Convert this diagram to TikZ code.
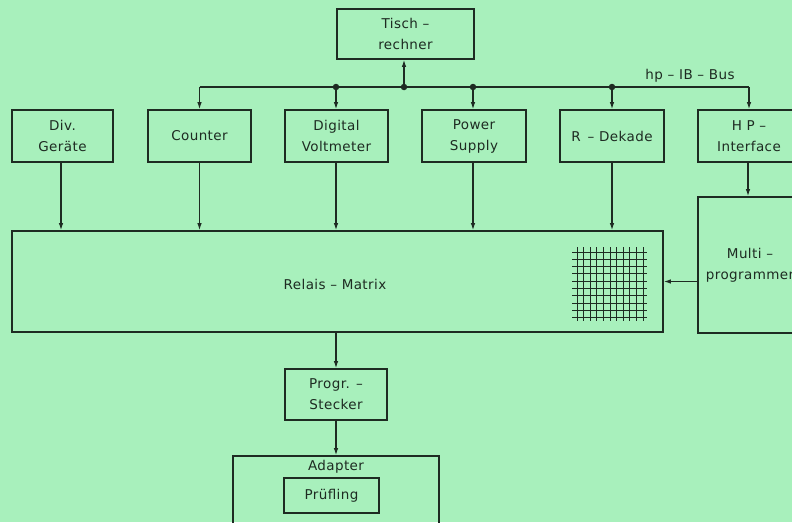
\documentclass[tikz,border=0pt]{standalone}
\usepackage{fontspec}
\setmainfont{DejaVu Sans}[LetterSpace=3]
\usetikzlibrary{arrows.meta}
\definecolor{bg}{HTML}{A8F0BC}
\definecolor{ink}{HTML}{1E2B22}
\tikzset{
  box/.style={draw=ink, line width=1.7pt, align=center, inner sep=0pt, text=ink,
    font=\fontsize{13.5}{21}\selectfont},
  conn/.style={draw=ink, line width=1.1pt, -{Latex[length=7pt,width=4.5pt]}},
  plain/.style={draw=ink, line width=1.1pt},
  lbl/.style={text=ink, font=\fontsize{13.5}{21}\selectfont, inner sep=0pt},
  grid/.style={draw=ink, line width=1pt},
  dot/.style={circle, fill=ink, inner sep=0pt, minimum size=6.5pt}
}
\begin{document}
\begin{tikzpicture}[x=1pt,y=-1pt]
\useasboundingbox (0,0) rectangle (792,522);
\fill[bg] (0,0) rectangle (792,522);
\clip (0,0) rectangle (792,522);

\node[box, minimum width=137pt, minimum height=50pt] (tisch) at (405.5,34) {Tisch –\\rechner};
\node[box, minimum width=101pt, minimum height=52pt] (div) at (62.5,136) {Div.\\Geräte};
\node[box, minimum width=103pt, minimum height=52pt] (counter) at (199.5,136) {Counter};
\node[box, minimum width=103pt, minimum height=52pt] (dvm) at (336.5,136) {Digital\\Voltmeter};
\node[box, minimum width=104pt, minimum height=52pt] (ps) at (474,136) {Power\\Supply};
\node[box, minimum width=104pt, minimum height=52pt] (rdek) at (612,136) {R \,– Dekade};
\node[box, minimum width=102pt, minimum height=52pt] (hp) at (749,136) {H P –\\Interface};
\node[box, minimum width=651pt, minimum height=101pt] (relais) at (337.5,281.5) {};
\node[lbl] (relaistxt) at (335,284) {Relais – Matrix};
\node[box, minimum width=104pt, minimum height=136pt] (multi) at (750,265) {Multi –\\programmer};
\node[box, minimum width=102pt, minimum height=51pt] (progr) at (336,394.5) {Progr. –\\Stecker};
\node[box, minimum width=206pt, minimum height=90pt] (adapter) at (336,501) {};
\node[lbl] (adaptertxt) at (336,467) {Adapter};
\node[box, line width=1.2pt, minimum width=95pt, minimum height=35pt] (pruef) at (331.5,495.5) {Prüfling};
\node[lbl] (buslbl) at (690,76) {hp – IB – Bus};

% bus
\coordinate (busy) at (0,87);
\draw[plain] (counter.north |- busy) -- (hp.north |- busy);
\draw[conn] (counter.north |- busy) -- (counter.north);
\draw[conn] ([xshift=-0.5pt]dvm.north |- busy) -- ([xshift=-0.5pt]dvm.north);
\draw[conn] ([xshift=-1pt]ps.north |- busy) -- ([xshift=-1pt]ps.north);
\draw[conn] (rdek.north |- busy) -- (rdek.north);
\draw[conn] (hp.north |- busy) -- (hp.north);
\draw[conn] ([xshift=-1.5pt]tisch.south |- busy) -- ([xshift=-1.5pt]tisch.south);
\node[dot] (d1) at ([xshift=-0.5pt]dvm.north |- busy) {};
\node[dot] (d2) at ([xshift=-1.5pt]tisch.south |- busy) {};
\node[dot] (d3) at ([xshift=-1pt]ps.north |- busy) {};
\node[dot] (d4) at (rdek.north |- busy) {};

% to relais
\draw[conn] ([xshift=-1.5pt]div.south) -- ([xshift=-1.5pt]div.south |- relais.north);
\draw[conn] (counter.south) -- (counter.south |- relais.north);
\draw[conn] ([xshift=-0.5pt]dvm.south) -- ([xshift=-0.5pt]dvm.south |- relais.north);
\draw[conn] ([xshift=-1pt]ps.south) -- ([xshift=-1pt]ps.south |- relais.north);
\draw[conn] (rdek.south) -- (rdek.south |- relais.north);
\draw[conn] ([xshift=-1pt]hp.south) -- ([xshift=-1pt]hp.south |- multi.north);
\draw[conn] (relais.east -| multi.west) -- (relais.east);
\draw[conn] (progr.north |- relais.south) -- (progr.north);
\draw[conn] (progr.south) -- (progr.south |- adapter.north);

% grid
\foreach \i in {0,...,10} {
  \draw[grid] (577+6.6*\i,247) -- (577+6.6*\i,321);
}
\foreach \j in {0,...,9} {
  \draw[grid] (572,252+7.3*\j) -- (647,252+7.3*\j);
}
\end{tikzpicture}
\end{document}
